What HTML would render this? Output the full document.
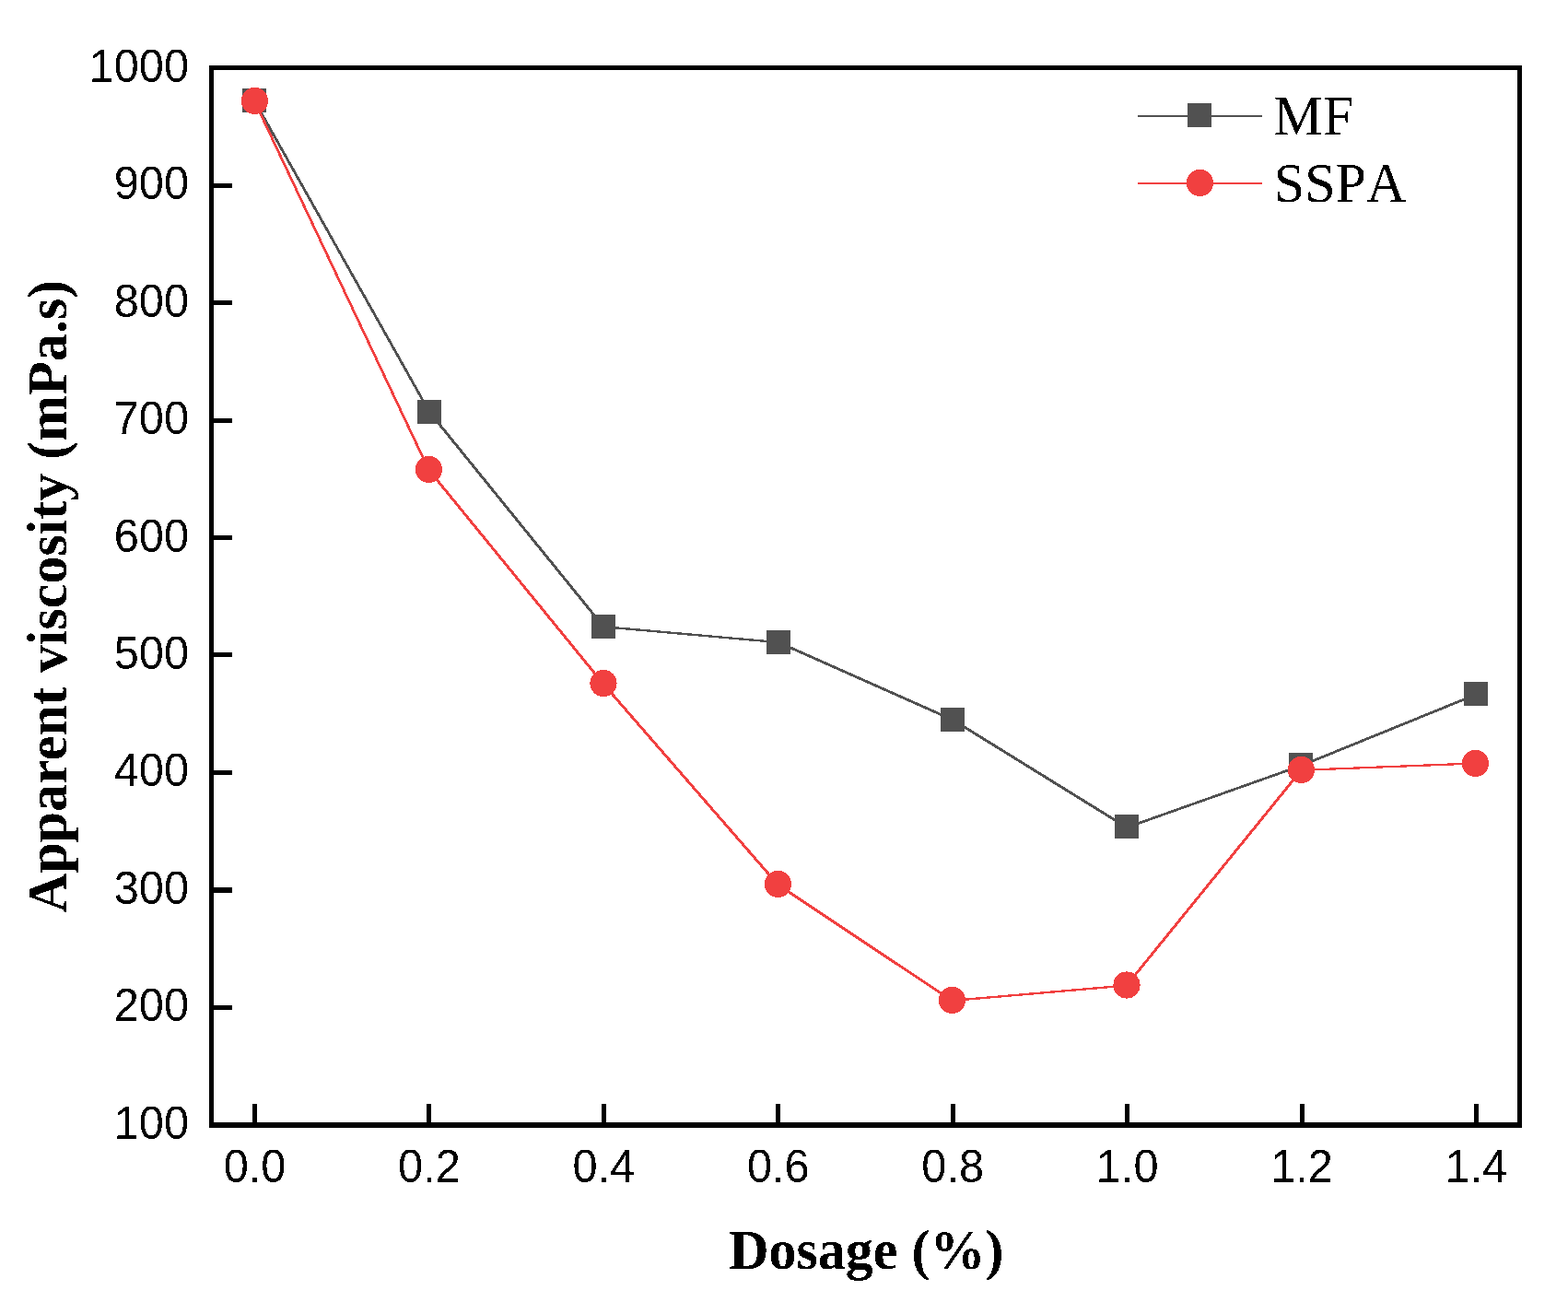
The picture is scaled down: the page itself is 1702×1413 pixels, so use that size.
<!DOCTYPE html>
<html lang="en"><head><meta charset="utf-8"><title>Apparent viscosity vs dosage</title>
<style>
html,body{margin:0;padding:0;background:#fff;}
body{width:1702px;height:1413px;overflow:hidden;}
svg{display:block;}
.tick{font-family:"Liberation Sans",Arial,sans-serif;font-size:48.7px;fill:#000;}
.ax{font-family:"Liberation Serif","Times New Roman",serif;font-weight:bold;font-size:60px;fill:#000;}
.lg{font-family:"Liberation Serif","Times New Roman",serif;font-size:60px;fill:#000;font-kerning:none;}
</style></head><body>
<svg width="1702" height="1413" viewBox="0 0 1702 1413">
<defs><filter id="bw" x="0" y="0" width="1702" height="1413" filterUnits="userSpaceOnUse" color-interpolation-filters="sRGB"><feComponentTransfer><feFuncA type="discrete" tableValues="0 1"/></feComponentTransfer></filter></defs>
<rect x="0" y="0" width="1702" height="1413" fill="#ffffff"/>

<g fill="#000" shape-rendering="crispEdges">
<rect x="227" y="71" width="1425" height="5"/>
<rect x="227" y="1218" width="1425" height="6"/>
<rect x="227" y="71" width="5" height="1153"/>
<rect x="1647" y="71" width="5" height="1153"/>
<rect x="274" y="1198" width="5" height="21"/>
<rect x="463" y="1198" width="5" height="21"/>
<rect x="653" y="1198" width="5" height="21"/>
<rect x="842" y="1198" width="5" height="21"/>
<rect x="1032" y="1198" width="5" height="21"/>
<rect x="1221" y="1198" width="5" height="21"/>
<rect x="1411" y="1198" width="5" height="21"/>
<rect x="1600" y="1198" width="5" height="21"/>
<rect x="231" y="199" width="21" height="5"/>
<rect x="231" y="326" width="21" height="5"/>
<rect x="231" y="454" width="21" height="5"/>
<rect x="231" y="581" width="21" height="5"/>
<rect x="231" y="708" width="21" height="5"/>
<rect x="231" y="836" width="21" height="5"/>
<rect x="231" y="963" width="21" height="6"/>
<rect x="231" y="1091" width="21" height="5"/>
</g>
<g filter="url(#bw)">
<g class="tick" text-anchor="end">
<text transform="translate(205 88.6) scale(1 1.045)">1000</text>
<text transform="translate(205 215.6) scale(1 1.045)">900</text>
<text transform="translate(205 343.6) scale(1 1.045)">800</text>
<text transform="translate(205 470.6) scale(1 1.045)">700</text>
<text transform="translate(205 598.6) scale(1 1.045)">600</text>
<text transform="translate(205 725.6) scale(1 1.045)">500</text>
<text transform="translate(205 852.6) scale(1 1.045)">400</text>
<text transform="translate(205 980.6) scale(1 1.045)">300</text>
<text transform="translate(205 1107.6) scale(1 1.045)">200</text>
<text transform="translate(205 1235.6) scale(1 1.045)">100</text>
</g>
<g class="tick" text-anchor="middle">
<text transform="translate(276.5 1282.6) scale(1 1.045)">0.0</text>
<text transform="translate(465.9 1282.6) scale(1 1.045)">0.2</text>
<text transform="translate(655.4 1282.6) scale(1 1.045)">0.4</text>
<text transform="translate(844.8 1282.6) scale(1 1.045)">0.6</text>
<text transform="translate(1034.2 1282.6) scale(1 1.045)">0.8</text>
<text transform="translate(1223.7 1282.6) scale(1 1.045)">1.0</text>
<text transform="translate(1413.1 1282.6) scale(1 1.045)">1.2</text>
<text transform="translate(1602.5 1282.6) scale(1 1.045)">1.4</text>
</g>
<text class="ax" text-anchor="middle" transform="translate(940.3 1376.6) scale(1 1.025)">Dosage (%)</text>
<text class="ax" text-anchor="middle" transform="translate(72.3 647.4) rotate(-90) scale(1 1.025)">Apparent viscosity (mPa.s)</text>
<text class="lg" transform="translate(1382.6 146) scale(1 1.02)">MF</text>
<text class="lg" transform="translate(1382.8 219) scale(1 1.02)">SSPA</text>
</g>
<path fill="#515151" shape-rendering="crispEdges" d="M275.13 108.05 L277.13 108.05 L467.13 446.05 L467.13 448.25 L465.13 448.25 L275.13 110.25Z M465.13 446.05 L467.13 446.05 L656.13 679.05 L656.13 681.25 L654.13 681.25 L465.13 448.25Z M654.13 679.05 L656.13 679.05 L846.13 696.05 L846.13 698.25 L844.13 698.25 L654.13 681.25Z M844.13 696.05 L846.13 696.05 L1035.13 780.05 L1035.13 782.25 L1033.13 782.25 L844.13 698.25Z M1033.13 780.05 L1035.13 780.05 L1224.13 896.90 L1224.13 899.10 L1222.13 899.10 L1033.13 782.25Z M1222.13 896.90 L1411.13 829.90 L1413.13 829.90 L1413.13 832.10 L1224.13 899.10 L1222.13 899.10Z M1411.13 829.90 L1601.13 752.65 L1603.13 752.65 L1603.13 754.85 L1413.13 832.10 L1411.13 832.10Z"/>
<g fill="#515151" shape-rendering="crispEdges">
<rect x="263.0" y="96.0" width="26" height="26"/>
<rect x="453.0" y="434.0" width="26" height="26"/>
<rect x="642.0" y="667.0" width="26" height="26"/>
<rect x="832.0" y="684.0" width="26" height="26"/>
<rect x="1021.0" y="768.0" width="26" height="26"/>
<rect x="1210.0" y="884.0" width="26" height="26"/>
<rect x="1399.0" y="817.0" width="26" height="26"/>
<rect x="1589.0" y="740.0" width="26" height="26"/>
</g>
<path fill="#F14040" shape-rendering="crispEdges" d="M275.35 108.85 L277.35 108.85 L466.45 508.85 L466.45 511.05 L464.45 511.05 L275.35 111.05Z M464.45 508.85 L466.45 508.85 L655.75 740.95 L655.75 743.15 L653.75 743.15 L464.45 511.05Z M653.75 740.95 L655.75 740.95 L845.25 958.85 L845.25 961.05 L843.25 961.05 L653.75 743.15Z M843.25 958.85 L845.25 958.85 L1034.35 1084.85 L1034.35 1087.05 L1032.35 1087.05 L843.25 961.05Z M1032.35 1084.85 L1221.85 1068.45 L1223.85 1068.45 L1223.85 1070.65 L1034.35 1087.05 L1032.35 1087.05Z M1221.85 1068.45 L1411.45 834.75 L1413.45 834.75 L1413.45 836.95 L1223.85 1070.65 L1221.85 1070.65Z M1411.45 834.75 L1600.45 827.35 L1602.45 827.35 L1602.45 829.55 L1413.45 836.95 L1411.45 836.95Z"/>
<g fill="#F14040" shape-rendering="crispEdges">
<ellipse cx="276.5" cy="109.5" rx="14.6" ry="14.6"/>
<ellipse cx="465.5" cy="509.5" rx="14.6" ry="14.6"/>
<ellipse cx="655.0" cy="741.5" rx="14.6" ry="14.6"/>
<ellipse cx="844.5" cy="959.5" rx="14.6" ry="14.6"/>
<ellipse cx="1033.5" cy="1085.5" rx="14.6" ry="14.6"/>
<ellipse cx="1223.0" cy="1069.0" rx="14.6" ry="14.6"/>
<ellipse cx="1412.5" cy="835.5" rx="14.6" ry="14.6"/>
<ellipse cx="1601.5" cy="828.5" rx="14.6" ry="14.6"/>
</g>
<rect x="1235" y="125" width="135" height="2" fill="#515151"/>
<rect x="1289" y="112" width="26" height="26" shape-rendering="crispEdges" fill="#515151"/>
<rect x="1235" y="198" width="135" height="2" fill="#F14040"/>
<circle cx="1302.5" cy="198.5" r="14.6" fill="#F14040" shape-rendering="crispEdges"/>
</svg>
</body></html>
